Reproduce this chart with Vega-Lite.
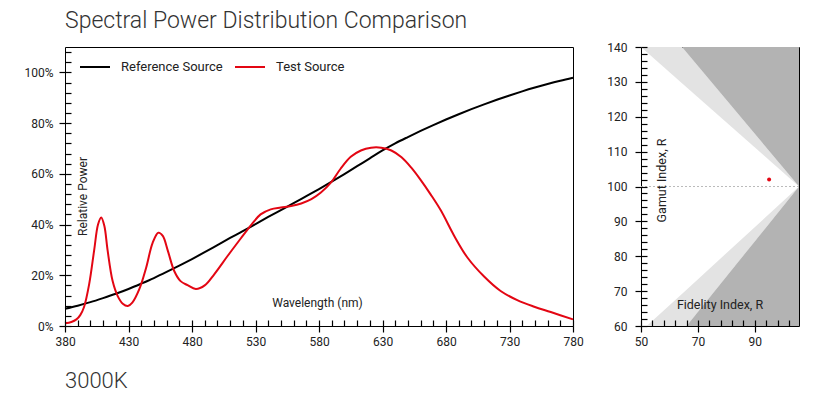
{
  "$schema": "https://vega.github.io/schema/vega-lite/v6.json",
  "padding": {"left": 23, "top": 9, "right": 5, "bottom": 2},
  "title": {"text": "Spectral Power Distribution Comparison", "anchor": "start", "frame": "group", "fontSize": 23, "fontWeight": 300, "font": "Roboto", "color": "#333", "offset": 8},
  "config": {
    "font": "Roboto",
    "view": {"stroke": "#000", "strokeWidth": 1},
    "axis": {"labelFont": "Roboto", "labelFontSize": 12, "labelColor": "#222", "labelFlush": false, "titleFont": "Roboto", "titleFontWeight": "normal", "titleColor": "#222", "titleFontSize": 12, "grid": false, "domain": false}
  },
  "datasets": {
    "reference": [
      {"series": "Reference Source", "wavelength": 380, "power": 0.068},
      {"series": "Reference Source", "wavelength": 390, "power": 0.080},
      {"series": "Reference Source", "wavelength": 400, "power": 0.094},
      {"series": "Reference Source", "wavelength": 410, "power": 0.110},
      {"series": "Reference Source", "wavelength": 420, "power": 0.127},
      {"series": "Reference Source", "wavelength": 430, "power": 0.146},
      {"series": "Reference Source", "wavelength": 440, "power": 0.167},
      {"series": "Reference Source", "wavelength": 450, "power": 0.189},
      {"series": "Reference Source", "wavelength": 460, "power": 0.213},
      {"series": "Reference Source", "wavelength": 470, "power": 0.238},
      {"series": "Reference Source", "wavelength": 480, "power": 0.264},
      {"series": "Reference Source", "wavelength": 490, "power": 0.291},
      {"series": "Reference Source", "wavelength": 500, "power": 0.319},
      {"series": "Reference Source", "wavelength": 510, "power": 0.347},
      {"series": "Reference Source", "wavelength": 520, "power": 0.374},
      {"series": "Reference Source", "wavelength": 530, "power": 0.402},
      {"series": "Reference Source", "wavelength": 540, "power": 0.430},
      {"series": "Reference Source", "wavelength": 550, "power": 0.457},
      {"series": "Reference Source", "wavelength": 560, "power": 0.484},
      {"series": "Reference Source", "wavelength": 570, "power": 0.512},
      {"series": "Reference Source", "wavelength": 580, "power": 0.540},
      {"series": "Reference Source", "wavelength": 590, "power": 0.569},
      {"series": "Reference Source", "wavelength": 600, "power": 0.599},
      {"series": "Reference Source", "wavelength": 610, "power": 0.630},
      {"series": "Reference Source", "wavelength": 620, "power": 0.661},
      {"series": "Reference Source", "wavelength": 630, "power": 0.692},
      {"series": "Reference Source", "wavelength": 640, "power": 0.720},
      {"series": "Reference Source", "wavelength": 650, "power": 0.745},
      {"series": "Reference Source", "wavelength": 660, "power": 0.769},
      {"series": "Reference Source", "wavelength": 670, "power": 0.792},
      {"series": "Reference Source", "wavelength": 680, "power": 0.814},
      {"series": "Reference Source", "wavelength": 690, "power": 0.835},
      {"series": "Reference Source", "wavelength": 700, "power": 0.855},
      {"series": "Reference Source", "wavelength": 710, "power": 0.874},
      {"series": "Reference Source", "wavelength": 720, "power": 0.892},
      {"series": "Reference Source", "wavelength": 730, "power": 0.909},
      {"series": "Reference Source", "wavelength": 740, "power": 0.925},
      {"series": "Reference Source", "wavelength": 750, "power": 0.940},
      {"series": "Reference Source", "wavelength": 760, "power": 0.954},
      {"series": "Reference Source", "wavelength": 770, "power": 0.967},
      {"series": "Reference Source", "wavelength": 780, "power": 0.979}
    ],
    "test": [
      {"series": "Test Source", "wavelength": 380, "power": 0.011},
      {"series": "Test Source", "wavelength": 385, "power": 0.016},
      {"series": "Test Source", "wavelength": 389, "power": 0.026},
      {"series": "Test Source", "wavelength": 392, "power": 0.043},
      {"series": "Test Source", "wavelength": 395, "power": 0.075},
      {"series": "Test Source", "wavelength": 399, "power": 0.164},
      {"series": "Test Source", "wavelength": 403, "power": 0.300},
      {"series": "Test Source", "wavelength": 406, "power": 0.400},
      {"series": "Test Source", "wavelength": 408.5, "power": 0.428},
      {"series": "Test Source", "wavelength": 411, "power": 0.394},
      {"series": "Test Source", "wavelength": 413.5, "power": 0.300},
      {"series": "Test Source", "wavelength": 417.5, "power": 0.177},
      {"series": "Test Source", "wavelength": 421.5, "power": 0.118},
      {"series": "Test Source", "wavelength": 425.5, "power": 0.088},
      {"series": "Test Source", "wavelength": 429.5, "power": 0.079},
      {"series": "Test Source", "wavelength": 433, "power": 0.092},
      {"series": "Test Source", "wavelength": 438.5, "power": 0.145},
      {"series": "Test Source", "wavelength": 444, "power": 0.232},
      {"series": "Test Source", "wavelength": 449, "power": 0.328},
      {"series": "Test Source", "wavelength": 453.5, "power": 0.368},
      {"series": "Test Source", "wavelength": 457, "power": 0.355},
      {"series": "Test Source", "wavelength": 461, "power": 0.296},
      {"series": "Test Source", "wavelength": 466, "power": 0.217},
      {"series": "Test Source", "wavelength": 471, "power": 0.177},
      {"series": "Test Source", "wavelength": 476.5, "power": 0.161},
      {"series": "Test Source", "wavelength": 483, "power": 0.146},
      {"series": "Test Source", "wavelength": 490, "power": 0.160},
      {"series": "Test Source", "wavelength": 497.5, "power": 0.204},
      {"series": "Test Source", "wavelength": 508, "power": 0.276},
      {"series": "Test Source", "wavelength": 518.5, "power": 0.346},
      {"series": "Test Source", "wavelength": 527, "power": 0.401},
      {"series": "Test Source", "wavelength": 534, "power": 0.440},
      {"series": "Test Source", "wavelength": 542, "power": 0.460},
      {"series": "Test Source", "wavelength": 550, "power": 0.467},
      {"series": "Test Source", "wavelength": 558, "power": 0.473},
      {"series": "Test Source", "wavelength": 566, "power": 0.483},
      {"series": "Test Source", "wavelength": 574, "power": 0.500},
      {"series": "Test Source", "wavelength": 581.5, "power": 0.526},
      {"series": "Test Source", "wavelength": 589.5, "power": 0.566},
      {"series": "Test Source", "wavelength": 597, "power": 0.620},
      {"series": "Test Source", "wavelength": 605, "power": 0.667},
      {"series": "Test Source", "wavelength": 613, "power": 0.692},
      {"series": "Test Source", "wavelength": 621, "power": 0.703},
      {"series": "Test Source", "wavelength": 629, "power": 0.703},
      {"series": "Test Source", "wavelength": 637, "power": 0.692},
      {"series": "Test Source", "wavelength": 645, "power": 0.665},
      {"series": "Test Source", "wavelength": 652.5, "power": 0.625},
      {"series": "Test Source", "wavelength": 660, "power": 0.576},
      {"series": "Test Source", "wavelength": 668, "power": 0.518},
      {"series": "Test Source", "wavelength": 676, "power": 0.455},
      {"series": "Test Source", "wavelength": 686.5, "power": 0.355},
      {"series": "Test Source", "wavelength": 697, "power": 0.269},
      {"series": "Test Source", "wavelength": 710, "power": 0.195},
      {"series": "Test Source", "wavelength": 723, "power": 0.138},
      {"series": "Test Source", "wavelength": 736.5, "power": 0.101},
      {"series": "Test Source", "wavelength": 749.5, "power": 0.076},
      {"series": "Test Source", "wavelength": 762.5, "power": 0.055},
      {"series": "Test Source", "wavelength": 780, "power": 0.026}
    ],
    "regions": [
      {"region": "light upper", "fidelity": 50, "lower": 140, "upper": 140},
      {"region": "light upper", "fidelity": 64.4, "lower": 129.6, "upper": 140},
      {"region": "light upper", "fidelity": 105.5, "lower": 100, "upper": 100},
      {"region": "dark upper", "fidelity": 64.4, "lower": 140, "upper": 140},
      {"region": "dark upper", "fidelity": 105.5, "lower": 100, "upper": 140},
      {"region": "light lower", "fidelity": 52, "lower": 60, "upper": 60},
      {"region": "light lower", "fidelity": 66, "lower": 70.4, "upper": 60},
      {"region": "light lower", "fidelity": 105.5, "lower": 100, "upper": 100},
      {"region": "dark lower", "fidelity": 66, "lower": 60, "upper": 60},
      {"region": "dark lower", "fidelity": 105.5, "lower": 100, "upper": 60}
    ],
    "reference_line": [
      {"fidelity": 50, "fidelity_end": 105.5, "gamut": 100}
    ],
    "test_point": [
      {"fidelity": 95, "gamut": 102}
    ]
  },
  "resolve": {"scale": {"x": "independent", "y": "independent", "color": "independent"}},
  "bounds": "flush",
  "spacing": 68,
  "hconcat": [
    {
      "width": 508,
      "height": 279,
      "title": {"text": "3000K", "orient": "bottom", "anchor": "start", "frame": "group", "fontSize": 22, "fontWeight": 300, "font": "Roboto", "color": "#333", "offset": 24},
      "layer": [
        {
          "data": {"name": "reference"},
          "mark": {"type": "line", "strokeWidth": 2, "interpolate": "catmull-rom"},
          "encoding": {
            "x": {"field": "wavelength", "type": "quantitative", "scale": {"domain": [380, 780], "nice": false, "zero": false},
              "axis": {"orient": "bottom", "values": [380, 430, 480, 530, 580, 630, 680, 730, 780], "ticks": true, "tickSize": 6, "tickColor": "#000000", "tickWidth": 1.2, "labelPadding": 4, "zindex": 1, "title": "Wavelength (nm)", "titleX": 252, "titleY": -24, "titleBaseline": "middle", "titleAlign": "center"}},
            "y": {"field": "power", "type": "quantitative", "scale": {"domain": [0, 1.1], "nice": false, "zero": false},
              "axis": {"orient": "left", "values": [0, 0.2, 0.4, 0.6, 0.8, 1.0], "format": ".0%", "ticks": true, "tickSize": 6, "tickColor": "#000000", "tickWidth": 1.2, "labelPadding": 6, "zindex": 1, "title": "Relative Power", "titleX": 17, "titleY": 149, "titleAngle": 270, "titleBaseline": "middle", "titleAlign": "center"}},
            "color": {"field": "series", "type": "nominal", "scale": {"domain": ["Reference Source", "Test Source"], "range": ["#000000", "#e30613"]},
              "legend": {"orient": "none", "legendX": 14, "legendY": 4, "direction": "horizontal", "title": null, "symbolType": "stroke", "symbolSize": 900, "symbolStrokeWidth": 2, "labelFontSize": 13, "labelColor": "#222", "labelOffset": 10, "columnPadding": 8, "padding": 0}}
          }
        },
        {
          "data": {"name": "test"},
          "mark": {"type": "line", "strokeWidth": 2, "interpolate": "catmull-rom"},
          "encoding": {
            "x": {"field": "wavelength", "type": "quantitative",
              "axis": {"orient": "bottom", "values": [380, 390, 400, 410, 420, 430, 440, 450, 460, 470, 480, 490, 500, 510, 520, 530, 540, 550, 560, 570, 580, 590, 600, 610, 620, 630, 640, 650, 660, 670, 680, 690, 700, 710, 720, 730, 740, 750, 760, 770, 780], "offset": -6, "ticks": true, "tickSize": 6, "tickColor": "#000000", "tickWidth": 1.2, "labels": false, "zindex": 1, "title": null}},
            "y": {"field": "power", "type": "quantitative",
              "axis": {"orient": "left", "values": [0, 0.04, 0.08, 0.12, 0.16, 0.2, 0.24, 0.28, 0.32, 0.36, 0.4, 0.44, 0.48, 0.52, 0.56, 0.6, 0.64, 0.68, 0.72, 0.76, 0.8, 0.84, 0.88, 0.92, 0.96, 1.0, 1.04, 1.08], "offset": -6, "ticks": true, "tickSize": 6, "tickColor": "#000000", "tickWidth": 1.2, "labels": false, "zindex": 1, "title": null}},
            "color": {"field": "series", "type": "nominal",
              "legend": {"orient": "none", "legendX": 14, "legendY": 4, "direction": "horizontal", "title": null, "symbolType": "stroke", "symbolSize": 900, "symbolStrokeWidth": 2, "labelFontSize": 13, "labelColor": "#222", "labelOffset": 10, "columnPadding": 8, "padding": 0}}
          }
        }
      ],
      "resolve": {"axis": {"x": "independent", "y": "independent"}}
    },
    {
      "width": 158,
      "height": 279,
      "layer": [
        {
          "data": {"name": "regions"},
          "mark": {"type": "area", "interpolate": "linear", "opacity": 1},
          "encoding": {
            "x": {"field": "fidelity", "type": "quantitative", "scale": {"domain": [50, 105.5], "nice": false, "zero": false},
              "axis": {"orient": "bottom", "values": [50, 70, 90], "ticks": true, "tickSize": 6, "tickColor": "#000000", "tickWidth": 1.2, "labelPadding": 4, "zindex": 1, "title": "Fidelity Index, R", "titleX": 78.5, "titleY": -22, "titleBaseline": "middle", "titleAlign": "center", "titleFontSize": 12.5}},
            "y": {"field": "lower", "type": "quantitative", "stack": null, "scale": {"domain": [60, 140], "nice": false, "zero": false},
              "axis": {"orient": "left", "values": [60, 70, 80, 90, 100, 110, 120, 130, 140], "ticks": true, "tickSize": 6, "tickColor": "#000000", "tickWidth": 1.2, "labelPadding": 8, "zindex": 1, "title": "Gamut Index, R", "titleX": 20, "titleY": 133, "titleAngle": 270, "titleBaseline": "middle", "titleAlign": "center", "titleFontSize": 12.5}},
            "y2": {"field": "upper"},
            "color": {"field": "region", "type": "nominal", "scale": {"domain": ["light upper", "dark upper", "light lower", "dark lower"], "range": ["#e3e3e3", "#b3b3b3", "#e3e3e3", "#b3b3b3"]}, "legend": null}
          }
        },
        {
          "data": {"name": "reference_line"},
          "mark": {"type": "rule", "color": "#bbbbbb", "strokeWidth": 1, "strokeDash": [2, 2]},
          "encoding": {
            "x": {"field": "fidelity", "type": "quantitative",
              "axis": {"orient": "bottom", "values": [50, 54, 58, 62, 66, 70, 74, 78, 82, 86, 90, 94, 98, 102], "offset": -6, "ticks": true, "tickSize": 6, "tickColor": "#000000", "tickWidth": 1.2, "labels": false, "zindex": 1, "title": null}},
            "x2": {"field": "fidelity_end"},
            "y": {"field": "gamut", "type": "quantitative",
              "axis": {"orient": "left", "values": [60, 62, 64, 66, 68, 70, 72, 74, 76, 78, 80, 82, 84, 86, 88, 90, 92, 94, 96, 98, 100, 102, 104, 106, 108, 110, 112, 114, 116, 118, 120, 122, 124, 126, 128, 130, 132, 134, 136, 138, 140], "offset": -6, "ticks": true, "tickSize": 6, "tickColor": "#000000", "tickWidth": 1.2, "labels": false, "zindex": 1, "title": null}}
          }
        },
        {
          "data": {"name": "test_point"},
          "mark": {"type": "circle", "color": "#e30613", "size": 16, "opacity": 1},
          "encoding": {
            "x": {"field": "fidelity", "type": "quantitative", "axis": null},
            "y": {"field": "gamut", "type": "quantitative", "axis": null}
          }
        }
      ],
      "resolve": {"axis": {"x": "independent", "y": "independent"}}
    }
  ]
}
